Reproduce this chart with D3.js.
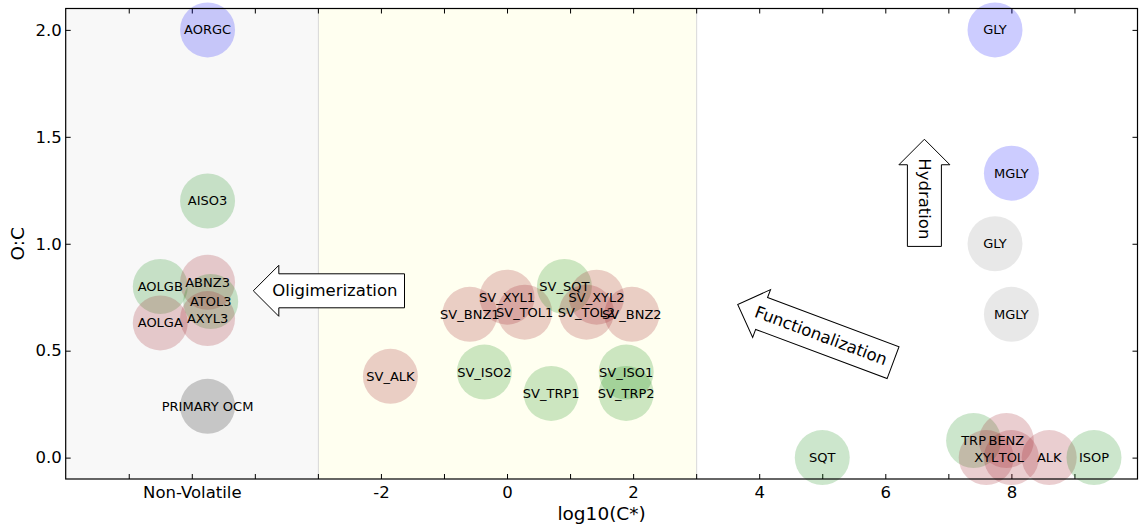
<!DOCTYPE html>
<html>
<head>
<meta charset="utf-8">
<script src="https://cdn.jsdelivr.net/npm/d3@7"></script>
<style>
  body { margin: 0; background: #fff; }
  svg { display: block; }
  text { font-family: "DejaVu Sans", sans-serif; fill: #000; }
</style>
</head>
<body>
<div id="chart"></div>
<script>
// ----- Data -----
const species = [
  "AORGC", "AISO3", "AOLGB", "AOLGA", "ABNZ3", "ATOL3", "AXYL3", "PRIMARY OCM",
  "SV_ALK", "SV_BNZ1", "SV_XYL1", "SV_TOL1", "SV_SQT", "SV_TOL2", "SV_XYL2", "SV_BNZ2",
  "SV_ISO2", "SV_TRP1", "SV_ISO1", "SV_TRP2",
  "GLY", "MGLY", "GLY", "MGLY",
  "SQT", "TRP", "BENZ", "XYL", "TOL", "ALK", "ISOP"
];
const logC = [
  -4.75, -4.75, -5.5, -5.5, -4.75, -4.7, -4.75, -4.75,
  -1.85, -0.59, 0.0, 0.28, 0.91, 1.26, 1.42, 1.98,
  -0.36, 0.7, 1.89, 1.89,
  7.74, 8.0, 7.74, 8.0,
  5.0, 7.4, 7.92, 7.6, 8.0, 8.6, 9.31
];
const oc = [
  2.0, 1.2, 0.8, 0.63, 0.82, 0.73, 0.65, 0.24,
  0.38, 0.67, 0.75, 0.68, 0.8, 0.68, 0.75, 0.67,
  0.4, 0.3, 0.4, 0.3,
  2.0, 1.33, 1.0, 0.67,
  0.0, 0.08, 0.08, 0.0, 0.0, 0.0, 0.0
];
const group = [
  "blue", "green", "green", "red", "red", "green", "red", "gray",
  "red", "red", "red", "red", "green", "red", "red", "red",
  "green", "green", "green", "green",
  "blue", "blue", "light", "light",
  "green", "green", "red", "red", "red", "red", "green"
];

// volatility bands
const bandStart = [-7, -3];
const bandEnd = [-3, 3];
const bandFill = ["#f8f8f8", "#fffff0"];

// x tick labels
const xTickValues = d3.range(-6, 10);
const xLabelValues = [-5, -2, 0, 2, 4, 6, 8];
const xLabelTexts = ["Non-Volatile", "-2", "0", "2", "4", "6", "8"];
const yTickValues = [0, 0.5, 1.0, 1.5, 2.0];

// process arrows
const arrowText = ["Oligimerization", "Functionalization", "Hydration"];
const arrowX = [-2.73, 4.98, 6.62];
const arrowY = [0.78, 0.57, 1.21];
const arrowRot = [0, 20.5, 90];

// ----- Configuration -----
const W = 1139, H = 532;
const MARGIN = { top: 8.5, right: 1.5, bottom: 53, left: 65.7 };
const R = 27.5;
const COLORS = {
  blue:  { c: "#0000ff", a: 0.2 },
  green: { c: "#008000", a: 0.2 },
  red:   { c: "#a01e28", a: 0.22 },
  gray:  { c: "#000000", a: 0.2 },
  light: { c: "#000000", a: 0.09 }
};

const svg = d3.select("#chart").append("svg")
  .attr("width", W).attr("height", H);

const width = W - MARGIN.left - MARGIN.right;
const height = H - MARGIN.top - MARGIN.bottom;

const g = svg.append("g")
  .attr("transform", `translate(${MARGIN.left},${MARGIN.top})`);

const x = d3.scaleLinear().domain([-7, 10]).range([0, width]);
const y = d3.scaleLinear().domain([-0.1, 2.1]).range([height, 0]);

// bands
g.selectAll("rect.band").data(bandStart).enter().append("rect")
  .attr("class", "band")
  .attr("x", (d, i) => x(d))
  .attr("y", 0)
  .attr("width", (d, i) => x(bandEnd[i]) - x(d))
  .attr("height", height)
  .attr("fill", (d, i) => bandFill[i]);

g.selectAll("line.bandedge").data([-3, 3]).enter().append("line")
  .attr("x1", d => x(d) + 0.5).attr("x2", d => x(d) + 0.5)
  .attr("y1", 0).attr("y2", height)
  .attr("stroke", "#d8d8d8").attr("stroke-width", 1);

// axes (ticks pointing inward, matplotlib classic)
const labelMap = new Map(xLabelValues.map((v, i) => [v, xLabelTexts[i]]));

g.append("g")
  .attr("transform", `translate(0,${height})`)
  .call(d3.axisBottom(x).tickValues(xTickValues).tickSize(-5).tickPadding(7)
    .tickFormat(d => labelMap.get(d) || ""));
g.append("g")
  .call(d3.axisTop(x).tickValues(xTickValues).tickSize(-5).tickFormat(""));
g.append("g")
  .call(d3.axisLeft(y).tickValues(yTickValues).tickSize(-5).tickPadding(4)
    .tickFormat(d3.format(".1f")));
g.append("g")
  .attr("transform", `translate(${width},0)`)
  .call(d3.axisRight(y).tickValues(yTickValues).tickSize(-5).tickFormat(""));

g.selectAll(".domain").remove();
g.selectAll(".tick line").attr("stroke", "#000").attr("stroke-width", 1);
g.selectAll(".tick text").attr("font-size", 16.5).attr("fill", "#000")
  .attr("font-family", "DejaVu Sans");

// circles
const idx = d3.range(species.length);
g.selectAll("circle.sp").data(idx).enter().append("circle")
  .attr("class", "sp")
  .attr("cx", i => x(logC[i]))
  .attr("cy", i => y(oc[i]))
  .attr("r", R)
  .attr("fill", i => COLORS[group[i]].c)
  .attr("fill-opacity", i => COLORS[group[i]].a);

g.selectAll("text.sp").data(idx).enter().append("text")
  .attr("class", "sp")
  .attr("x", i => x(logC[i]))
  .attr("y", i => y(oc[i]))
  .attr("text-anchor", "middle")
  .attr("dominant-baseline", "central")
  .attr("font-size", 13)
  .text(i => species[i]);

// frame
g.append("rect")
  .attr("x", 0).attr("y", 0).attr("width", width).attr("height", height)
  .attr("fill", "none").attr("stroke", "#000").attr("stroke-width", 1.2);

// arrows with text (larrow box)
function larrowPath(w, h, pad) {
  const x0 = -w / 2 - pad + pad / 1.4, x1 = w / 2 + pad;
  const y0 = -h / 2, y1 = h / 2;
  const dx = h / 2, dxx = dx / 2;
  return `M${x0 + dxx},${y0}L${x1},${y0}L${x1},${y1}L${x0 + dxx},${y1}` +
    `L${x0 + dxx},${y1 + dxx}L${x0 - dx},0L${x0 + dxx},${y0 - dxx}Z`;
}

arrowText.forEach((t, i) => {
  const a = g.append("g")
    .attr("transform", `translate(${x(arrowX[i])},${y(arrowY[i])}) rotate(${arrowRot[i]})`);
  const path = a.append("path")
    .attr("fill", "#fff").attr("stroke", "#000").attr("stroke-width", 1);
  const txt = a.append("text")
    .attr("text-anchor", "middle")
    .attr("dominant-baseline", "central")
    .attr("font-size", 16.5)
    .text(t);
  const w = txt.node().getComputedTextLength();
  path.attr("d", larrowPath(w, 34, 7));
});

// axis labels
svg.append("text")
  .attr("x", MARGIN.left + width / 2)
  .attr("y", 520)
  .attr("text-anchor", "middle")
  .attr("font-size", 18.5)
  .text("log10(C*)");

svg.append("text")
  .attr("transform", `translate(24,${MARGIN.top + y(1.0)}) rotate(-90)`)
  .attr("text-anchor", "middle")
  .attr("font-size", 18.5)
  .text("O:C");
</script>
</body>
</html>
